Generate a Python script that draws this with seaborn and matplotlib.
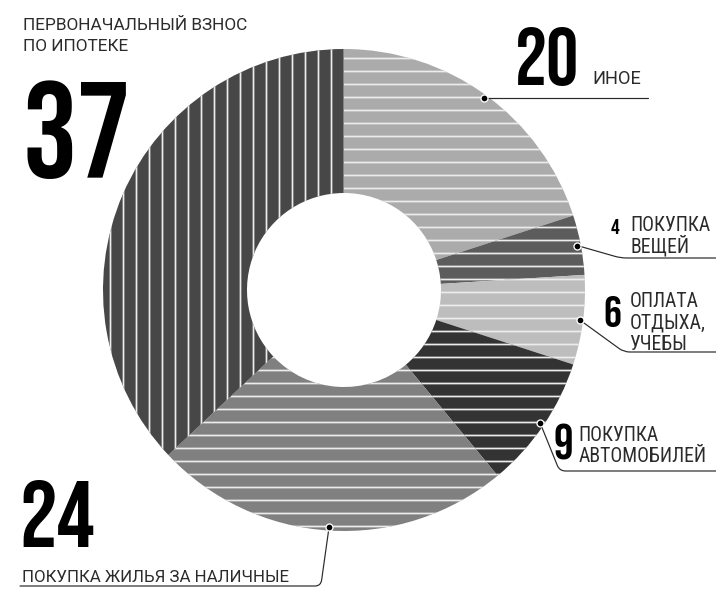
import numpy as np
import matplotlib
matplotlib.use("Agg")
import matplotlib.pyplot as plt
from matplotlib import font_manager as fm
from matplotlib.textpath import TextPath
import seaborn as sns

# данные
values = [20, 4, 6, 9, 24, 37]
numbers = ["20", "4", "6", "9", "24", "37"]
labels = [
    ["ИНОЕ"],
    ["ПОКУПКА", "ВЕЩЕЙ"],
    ["ОПЛАТА", "ОТДЫХА,", "УЧЕБЫ"],
    ["ПОКУПКА", "АВТОМОБИЛЕЙ"],
    ["ПОКУПКА ЖИЛЬЯ ЗА НАЛИЧНЫЕ"],
    ["ПЕРВОНАЧАЛЬНЫЙ ВЗНОС", "ПО ИПОТЕКЕ"],
]
colors = ["#ababab", "#5c5c5c", "#bdbdbd", "#333333", "#808080", "#474747"]
hatches = ["-", "-", "-", "-", "-", "|"]

sns.set_theme(style="white")
DPI = 78
W, H = 716, 599
CX, CY, R = 344, 290, 241
plt.rcParams["hatch.linewidth"] = 1.6
text_col = "#2b2b2b"

fonts = {}
for f in fm.fontManager.ttflist:
    w = f.weight if isinstance(f.weight, int) else 400
    fonts.setdefault(f.name, set()).add(w)


def pick(cands):
    for name, wmin in cands:
        if name in fonts and max(fonts[name]) >= wmin:
            return name
    return "DejaVu Sans"


def ratio(prop, s="2037"):
    ext = TextPath((0, 0), s, size=100, prop=prop).get_extents()
    return ext.width / ext.height


# узкий жирный шрифт для больших цифр: ближайший по пропорциям к оригиналу
big_cands = ["Barlow Condensed", "Oswald", "Fira Sans Extra Condensed", "Roboto Condensed",
             "Bebas Neue", "Saira Extra Condensed", "Antonio", "Fjalla One",
             "PT Sans Narrow", "Archivo Narrow", "Liberation Sans Narrow"]
best, best_d = None, 1e9
for name in big_cands:
    if name not in fonts:
        continue
    try:
        p = fm.FontProperties(family=name, weight="bold")
        d = abs(ratio(p) - 2.05)
    except Exception:
        continue
    if d < best_d:
        best, best_d = p, d
big_prop = best or fm.FontProperties(family="DejaVu Sans", weight="bold", stretch="condensed")

wide_prop = fm.FontProperties(family=pick([("Roboto", 0), ("Open Sans", 0)]), weight="normal")
narrow_prop = fm.FontProperties(
    family=pick([("Roboto Condensed", 0), ("Fira Sans Condensed", 0), ("Roboto", 0)]),
    weight="normal")


def pt(px):
    return px * 72 / DPI


def xy(px, py):
    # пиксели -> координаты данных
    return (px - CX) / R, (CY - py) / R


def fit(s, prop, cap_px):
    # размер шрифта (в px) по высоте прописных и левый отступ глифа
    ext = TextPath((0, 0), s, size=100, prop=prop).get_extents()
    size = 100 * cap_px / ext.height
    return size, ext.x0 * size / 100


fig = plt.figure(figsize=(W / DPI, H / DPI), dpi=DPI)
ax = fig.add_axes([0, 0, 1, 1])

wedges, _ = ax.pie(
    values,
    colors=colors,
    hatch=hatches,
    startangle=90,
    counterclock=False,
    radius=1,
    wedgeprops=dict(width=1 - 97 / R, edgecolor="#ececec", linewidth=0),
)

ax.set_xlim(-CX / R, (W - CX) / R)
ax.set_ylim(-(H - CY) / R, CY / R)
ax.set_aspect("auto")
ax.axis("off")

# точки на середине каждого сектора
mids = [np.deg2rad((w.theta1 + w.theta2) / 2) for w in wedges]
dots = [(0.985 * np.cos(a), 0.985 * np.sin(a)) for a in mids]


def big(s, x, y, h):
    size, dx = fit(s, big_prop, h)
    ax.text(*xy(x - dx, y), s, fontsize=pt(size), fontproperties=big_prop,
            ha="left", va="baseline", color="black")


def small(lines, x, y0, h=14, step=22, prop=narrow_prop):
    size, dx = fit("Н", prop, h)
    for i, ln in enumerate(lines):
        ax.text(*xy(x - dx, y0 + i * step), ln, fontproperties=prop,
                fontsize=pt(size), ha="left", va="baseline", color=text_col)


def leader(i, end, ang, rad=6):
    ax.annotate("", xy=dots[i], xytext=xy(*end),
                arrowprops=dict(arrowstyle="-", color="#2a2a2a", lw=1.1,
                                shrinkA=0, shrinkB=0,
                                connectionstyle=f"angle,angleA=0,angleB={ang},rad={rad}"))


# 20 иное
big(numbers[0], 518, 85, 58)
small(labels[0], 594, 84, h=13, prop=wide_prop)
d0 = xy(648, 92)
ax.plot([dots[0][0], d0[0]], [dots[0][1], dots[0][1]], color="#2a2a2a", lw=1.1)

# 4 покупка вещей
big(numbers[1], 611, 234, 15)
small(labels[1], 632, 231)
leader(1, (716, 258), -16)

# 6 оплата отдыха
big(numbers[2], 605, 327, 32)
small(labels[2], 631, 307, step=21.5)
leader(2, (716, 352), -36)

# 9 автомобили
big(numbers[3], 555, 460, 35)
small(labels[3], 580, 441, step=21)
leader(3, (716, 471), -68)

# 24 жильё
big(numbers[4], 23, 547, 67)
small(labels[4], 23, 582, h=12, prop=wide_prop)
leader(4, (20, 586), 82)

# 37 ипотека
big(numbers[5], 27, 178, 98)
small(labels[5], 24, 30, h=12.3, step=21, prop=wide_prop)

ax.scatter([d[0] for d in dots[:5]], [d[1] for d in dots[:5]], s=pt(7) ** 2,
           color="black", edgecolor="white", linewidth=1.2, zorder=5)

fig.savefig("out.png", dpi=DPI)
